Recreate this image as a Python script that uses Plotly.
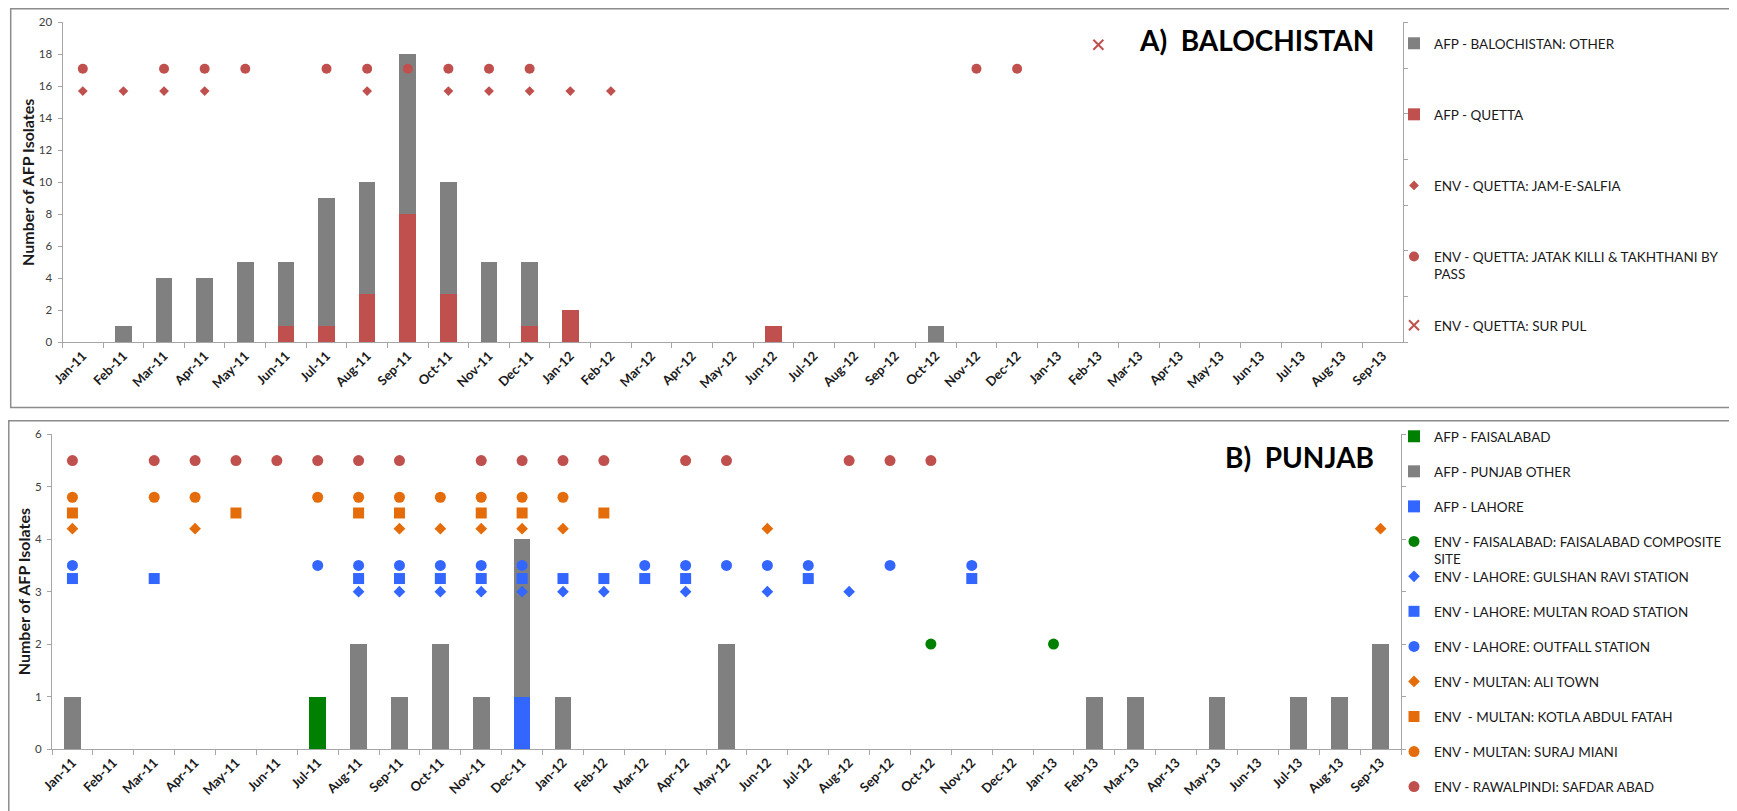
import plotly.graph_objects as go

# ---------------- data ----------------
months = ["Jan-11", "Feb-11", "Mar-11", "Apr-11", "May-11", "Jun-11", "Jul-11", "Aug-11",
          "Sep-11", "Oct-11", "Nov-11", "Dec-11", "Jan-12", "Feb-12", "Mar-12", "Apr-12",
          "May-12", "Jun-12", "Jul-12", "Aug-12", "Sep-12", "Oct-12", "Nov-12", "Dec-12",
          "Jan-13", "Feb-13", "Mar-13", "Apr-13", "May-13", "Jun-13", "Jul-13", "Aug-13",
          "Sep-13"]

# A) Balochistan - AFP bars
afp_bal_other = [0, 1, 4, 4, 5, 4, 8, 7, 10, 7, 5, 4,
                 0, 0, 0, 0, 0, 0, 0, 0, 0, 1, 0, 0,
                 0, 0, 0, 0, 0, 0, 0, 0, 0]
afp_quetta = [0, 0, 0, 0, 0, 1, 1, 3, 8, 3, 0, 1,
              2, 0, 0, 0, 0, 1, 0, 0, 0, 0, 0, 0,
              0, 0, 0, 0, 0, 0, 0, 0, 0]

# A) Balochistan - ENV positives (month, plotted level)
env_jam_months = ["Jan-11", "Feb-11", "Mar-11", "Apr-11", "Aug-11", "Oct-11", "Nov-11",
                  "Dec-11", "Jan-12", "Feb-12"]
env_jam_level = 15.7
env_jatak_months = ["Jan-11", "Mar-11", "Apr-11", "May-11", "Jul-11", "Aug-11", "Sep-11",
                    "Oct-11", "Nov-11", "Dec-11", "Nov-12", "Dec-12"]
env_jatak_level = 17.1
env_surpul_months = ["Feb-13"]
env_surpul_level = 18.6

# B) Punjab - AFP bars
afp_faisalabad = [0, 0, 0, 0, 0, 0, 1, 0, 0, 0, 0, 0,
                  0, 0, 0, 0, 0, 0, 0, 0, 0, 0, 0, 0,
                  0, 0, 0, 0, 0, 0, 0, 0, 0]
afp_punjab_other = [1, 0, 0, 0, 0, 0, 0, 2, 1, 2, 1, 3,
                    1, 0, 0, 0, 2, 0, 0, 0, 0, 0, 0, 0,
                    0, 1, 1, 0, 1, 0, 1, 1, 2]
afp_lahore = [0, 0, 0, 0, 0, 0, 0, 0, 0, 0, 0, 1,
              0, 0, 0, 0, 0, 0, 0, 0, 0, 0, 0, 0,
              0, 0, 0, 0, 0, 0, 0, 0, 0]

# B) Punjab - ENV positives (month, plotted level)
env_fsd_months = ["Oct-12", "Jan-13"]
env_fsd_level = 2.0
env_gulshan_months = ["Aug-11", "Sep-11", "Oct-11", "Nov-11", "Dec-11", "Jan-12", "Feb-12",
                      "Apr-12", "Jun-12", "Aug-12"]
env_gulshan_level = 3.0
env_multanrd_months = ["Jan-11", "Mar-11", "Aug-11", "Sep-11", "Oct-11", "Nov-11", "Dec-11",
                       "Jan-12", "Feb-12", "Mar-12", "Apr-12", "Jul-12", "Nov-12"]
env_multanrd_level = 3.25
env_outfall_months = ["Jan-11", "Jul-11", "Aug-11", "Sep-11", "Oct-11", "Nov-11", "Dec-11",
                      "Mar-12", "Apr-12", "May-12", "Jun-12", "Jul-12", "Sep-12", "Nov-12"]
env_outfall_level = 3.5
env_alitown_months = ["Jan-11", "Apr-11", "Sep-11", "Oct-11", "Nov-11", "Dec-11", "Jan-12",
                      "Jun-12", "Sep-13"]
env_alitown_level = 4.2
env_kotla_months = ["Jan-11", "May-11", "Aug-11", "Sep-11", "Nov-11", "Dec-11", "Feb-12"]
env_kotla_level = 4.5
env_suraj_months = ["Jan-11", "Mar-11", "Apr-11", "Jul-11", "Aug-11", "Sep-11", "Oct-11",
                    "Nov-11", "Dec-11", "Jan-12"]
env_suraj_level = 4.8
env_safdar_months = ["Jan-11", "Mar-11", "Apr-11", "May-11", "Jun-11", "Jul-11", "Aug-11",
                     "Sep-11", "Nov-11", "Dec-11", "Jan-12", "Feb-12", "Apr-12", "May-12",
                     "Aug-12", "Sep-12", "Oct-12"]
env_safdar_level = 5.5

# ---------------- style ----------------
OFF = 8                      # default page (body) margin of the html page
W, H = 1737 - OFF, 811 - OFF
RED = "#C0504D"
GRAY = "#808080"
GREEN = "#008000"
BLUE = "#3366FF"
ORANGE = "#E46C0A"
AXIS = "#A6A6A6"
FRAME = "#8C8C8C"
FONT = "Lato"


def px(x):
    """screen pixel x -> paper fraction"""
    return (x - OFF) / W


def py(y):
    """screen pixel y (from top) -> paper fraction"""
    return 1 - (y - OFF) / H


fig = go.Figure()


def bar(name, vals, color, xa, ya, legend, rank):
    fig.add_trace(go.Bar(x=months, y=vals, name=name, marker=dict(color=color, line=dict(width=0)),
                         xaxis=xa, yaxis=ya, legend=legend, legendgroup=name, legendrank=rank))


def pts(name, mlist, level, color, symbol, size, xa, ya, legend, rank, line=None):
    mk = dict(color=color, symbol=symbol, size=size)
    if line:
        mk["line"] = line
    fig.add_trace(go.Scatter(x=mlist, y=[level] * len(mlist), mode="markers", name=name,
                             marker=mk, xaxis=xa, yaxis=ya, legend=legend,
                             legendgroup=name, legendrank=rank))


# ---- A) Balochistan ----
bar("AFP - QUETTA", afp_quetta, RED, "x", "y", "legend", 2)
bar("AFP - BALOCHISTAN: OTHER", afp_bal_other, GRAY, "x", "y", "legend", 1)
pts("ENV - QUETTA: JAM-E-SALFIA", env_jam_months, env_jam_level, RED, "diamond", 7.5,
    "x", "y", "legend", 3)
pts("ENV - QUETTA: JATAK KILLI & TAKHTHANI BY<br>PASS", env_jatak_months, env_jatak_level,
    RED, "circle", 10, "x", "y", "legend", 4)
pts("ENV - QUETTA: SUR PUL", env_surpul_months, env_surpul_level, RED, "x-thin", 10,
    "x", "y", "legend3", 5, line=dict(color=RED, width=2))

# ---- B) Punjab ----
bar("AFP - LAHORE", afp_lahore, BLUE, "x2", "y2", "legend2", 3)
bar("AFP - FAISALABAD", afp_faisalabad, GREEN, "x2", "y2", "legend2", 1)
bar("AFP - PUNJAB OTHER", afp_punjab_other, GRAY, "x2", "y2", "legend2", 2)
pts("ENV - FAISALABAD: FAISALABAD COMPOSITE<br>SITE", env_fsd_months, env_fsd_level, GREEN,
    "circle", 11, "x2", "y2", "legend2", 4)
pts("ENV - LAHORE: GULSHAN RAVI STATION", env_gulshan_months, env_gulshan_level, BLUE,
    "diamond", 9, "x2", "y2", "legend4", 5)
pts("ENV - LAHORE: MULTAN ROAD STATION", env_multanrd_months, env_multanrd_level, BLUE,
    "square", 11, "x2", "y2", "legend4", 6)
pts("ENV - LAHORE: OUTFALL STATION", env_outfall_months, env_outfall_level, BLUE,
    "circle", 11, "x2", "y2", "legend4", 7)
pts("ENV - MULTAN: ALI TOWN", env_alitown_months, env_alitown_level, ORANGE,
    "diamond", 9, "x2", "y2", "legend4", 8)
pts("ENV  - MULTAN: KOTLA ABDUL FATAH", env_kotla_months, env_kotla_level, ORANGE,
    "square", 11, "x2", "y2", "legend4", 9)
pts("ENV - MULTAN: SURAJ MIANI", env_suraj_months, env_suraj_level, ORANGE,
    "circle", 11, "x2", "y2", "legend4", 10)
pts("ENV - RAWALPINDI: SAFDAR ABAD", env_safdar_months, env_safdar_level, RED,
    "circle", 11, "x2", "y2", "legend4", 11)

# empty traces so that the (label-less) secondary right axes are drawn
fig.add_trace(go.Scatter(x=[], y=[], xaxis="x", yaxis="y3", showlegend=False, hoverinfo="skip"))
fig.add_trace(go.Scatter(x=[], y=[], xaxis="x2", yaxis="y4", showlegend=False, hoverinfo="skip"))

xcommon = dict(type="category", categoryorder="array", categoryarray=months,
               range=[-0.5, len(months) - 0.5], tickangle=-45, ticks="outside",
               tickson="boundaries", ticklen=5, tickcolor=AXIS, showline=True,
               linecolor=AXIS, linewidth=1, showgrid=False, zeroline=False, automargin=False,
               tickfont=dict(family=FONT, size=13, color="#1a1a1a", weight="bold"))
ycommon = dict(ticks="outside", ticklen=4, tickcolor=AXIS, showline=True, linecolor=AXIS,
               linewidth=1, showgrid=False, zeroline=False, ticklabelstandoff=3,
               automargin=False,
               tickfont=dict(family=FONT, size=11.5, color="#404040"),
               title=dict(text="Number of AFP Isolates",
                          font=dict(family=FONT, size=16, color="#1a1a1a", weight="bold"),
                          standoff=0))
yright = dict(ticks="outside", ticklen=4, tickcolor=AXIS, showline=True, linecolor=AXIS,
              linewidth=1, showgrid=False, zeroline=False, showticklabels=False,
              automargin=False, side="right", dtick=1)

legcommon = dict(font=dict(family=FONT, size=13.5, color="#1a1a1a"), xanchor="left",
                 yanchor="top", bgcolor="rgba(0,0,0,0)", valign="top",
                 traceorder="grouped", itemclick=False)

fig.update_layout(
    width=W, height=H, margin=dict(l=0, r=0, t=0, b=0, autoexpand=False),
    paper_bgcolor="white", plot_bgcolor="white",
    barmode="stack", bargap=0.59,
    xaxis=dict(domain=[px(62.5), px(1403)], anchor="y", **xcommon),
    yaxis=dict(domain=[py(342.3), py(22.3)], anchor="x", range=[0, 20], dtick=2, **ycommon),
    yaxis3=dict(overlaying="y", anchor="x", range=[0, 7], **yright),
    xaxis2=dict(domain=[px(52), px(1401)], anchor="y2", **xcommon),
    yaxis2=dict(domain=[py(749), py(434.3)], anchor="x2", range=[0, 6], dtick=1, **ycommon),
    yaxis4=dict(overlaying="y2", anchor="x2", range=[0, 6], **yright),
    legend=dict(x=px(1394), y=py(28), tracegroupgap=50.5, **legcommon),
    legend3=dict(x=px(1394), y=py(310), tracegroupgap=50.5, **legcommon),
    legend2=dict(x=px(1394), y=py(421), tracegroupgap=14.5, **legcommon),
    legend4=dict(x=px(1394), y=py(561), tracegroupgap=14.5, **legcommon),
    annotations=[
        dict(text="A)\u00a0\u00a0BALOCHISTAN", xref="paper", yref="paper", x=px(1376),
             y=py(40), xanchor="right", yanchor="middle", showarrow=False,
             font=dict(family=FONT, size=28, color="black", weight="bold")),
        dict(text="B)\u00a0\u00a0PUNJAB", xref="paper", yref="paper", x=px(1376),
             y=py(457), xanchor="right", yanchor="middle", showarrow=False,
             font=dict(family=FONT, size=28, color="black", weight="bold")),
    ],
    shapes=[
        dict(type="rect", xref="paper", yref="paper", x0=px(10.7), x1=px(1760),
             y0=py(407.5), y1=py(8.8), line=dict(color=FRAME, width=1.5)),
        dict(type="rect", xref="paper", yref="paper", x0=px(8.8), x1=px(1735),
             y0=py(830), y1=py(420.7), line=dict(color=FRAME, width=1.5)),
    ],
)

fig.write_html("out.html")
